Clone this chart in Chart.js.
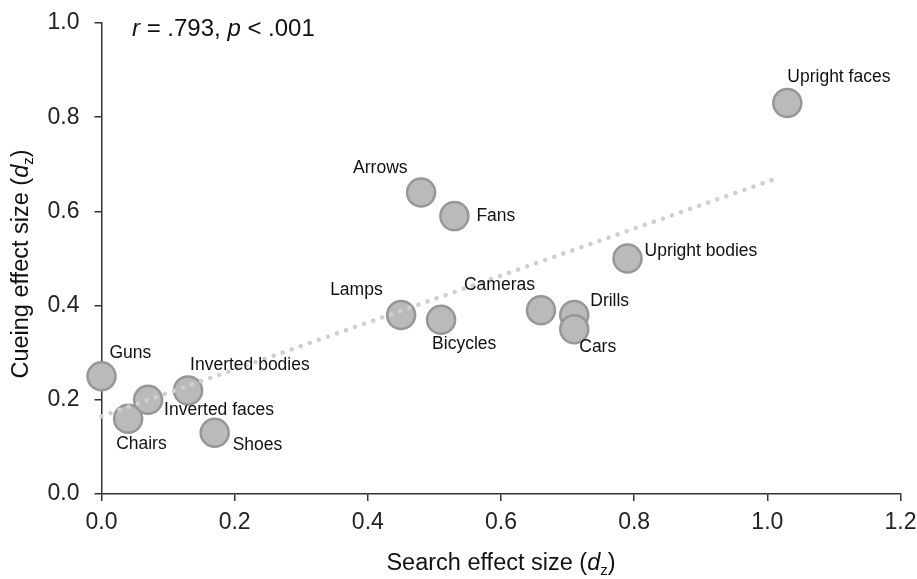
<!DOCTYPE html>
<html lang="en">
<head>
    <meta charset="UTF-8">
    <title>Cueing vs search effect size</title>
    <script src="https://cdn.jsdelivr.net/npm/chart.js"></script>
    <style>
        body { margin: 0; background: #fff; }
        #wrap { width: 917px; height: 579px; position: relative; }
    </style>
</head>
<body>
    <div id="wrap"><canvas id="myChart"></canvas></div>
    <script>
        // data
        const categories = ['Guns', 'Chairs', 'Inverted faces', 'Inverted bodies', 'Shoes', 'Lamps', 'Arrows',
            'Bicycles', 'Fans', 'Cameras', 'Drills', 'Cars', 'Upright bodies', 'Upright faces'];
        const searchEffect = [0.00, 0.04, 0.07, 0.13, 0.17, 0.45, 0.48, 0.51, 0.53, 0.66, 0.71, 0.71, 0.79, 1.03];
        const cueingEffect = [0.25, 0.16, 0.20, 0.22, 0.13, 0.38, 0.64, 0.37, 0.59, 0.39, 0.38, 0.35, 0.50, 0.83];
        const trendX = [0.00, 1.01];
        const trendY = [0.165, 0.668];
        const xTicks = [0, 0.2, 0.4, 0.6, 0.8, 1.0, 1.2];
        const yTicks = [0, 0.2, 0.4, 0.6, 0.8, 1.0];

        // label placement relative to each point (px)
        const labelOffsets = [[8, -23], [-12, 26], [16, 10], [2, -25], [18, 12], [-71, -25], [-68, -24],
            [-9, 24], [22, 0], [-77, -25], [16, -14], [5, 18], [17, -7], [0, -26]];

        const FONT = 'Arial, "Liberation Sans", sans-serif';

        const pointLabels = {
            id: 'pointLabels',
            afterDatasetsDraw(chart) {
                const c = chart.ctx;
                const meta = chart.getDatasetMeta(1);
                c.save();
                c.font = '17.5px ' + FONT;
                c.fillStyle = '#111';
                c.textAlign = 'left';
                c.textBaseline = 'middle';
                meta.data.forEach((pt, i) => {
                    c.fillText(categories[i], pt.x + labelOffsets[i][0], pt.y + labelOffsets[i][1]);
                });
                c.restore();
            }
        };

        // draws a run of [text, font, dy] parts
        function drawParts(c, parts, centred) {
            let total = 0;
            parts.forEach(p => { c.font = p[1]; total += c.measureText(p[0]).width; });
            let x = centred ? -total / 2 : 0;
            parts.forEach(p => {
                c.font = p[1];
                c.fillText(p[0], x, p[2] || 0);
                x += c.measureText(p[0]).width;
            });
        }

        const axisText = {
            id: 'axisText',
            afterDraw(chart) {
                const c = chart.ctx;
                const a = chart.chartArea;
                const big = '23.5px ' + FONT, ital = 'italic 23.5px ' + FONT, sub = '15px ' + FONT;
                const title = name => [[name + ' (', big], ['d', ital], ['z', sub, 5], [')', big]];
                c.save();
                c.fillStyle = '#111';
                c.textBaseline = 'alphabetic';
                c.textAlign = 'left';
                // x title
                c.save();
                c.translate((a.left + a.right) / 2, 570);
                drawParts(c, title('Search effect size'), true);
                c.restore();
                // y title
                c.save();
                c.translate(28, 264);
                c.rotate(-Math.PI / 2);
                drawParts(c, title('Cueing effect size'), true);
                c.restore();
                // correlation note
                c.save();
                c.translate(132, 36);
                const f = '24px ' + FONT, fi = 'italic 24px ' + FONT;
                drawParts(c, [['r', fi], [' = .793, ', f], ['p', fi], [' < .001', f]], false);
                c.restore();
                c.restore();
            }
        };

        const ctx = document.getElementById('myChart').getContext('2d');
        new Chart(ctx, {
            data: {
                datasets: [{
                    type: 'line',
                    data: trendX.map((x, i) => ({ x: x, y: trendY[i] })),
                    borderColor: '#cfcfcf',
                    borderWidth: 4.5,
                    borderDash: [0.1, 9.5],
                    borderCapStyle: 'round',
                    pointRadius: 0,
                    fill: false,
                    clip: false,
                    order: 0
                }, {
                    type: 'scatter',
                    data: searchEffect.map((x, i) => ({ x: x, y: cueingEffect[i] })),
                    backgroundColor: '#bababa',
                    borderColor: '#979797',
                    borderWidth: 2.5,
                    pointRadius: 14,
                    pointHoverRadius: 14,
                    clip: false,
                    order: 1
                }]
            },
            options: {
                responsive: true,
                maintainAspectRatio: false,
                animation: false,
                layout: { padding: { left: 0, right: 11, top: 23, bottom: 0 } },
                plugins: { legend: { display: false }, tooltip: { enabled: false } },
                scales: {
                    x: {
                        type: 'linear',
                        min: 0, max: 1.2,
                        afterBuildTicks: s => { s.ticks = xTicks.map(v => ({ value: v })); },
                        afterFit: s => { s.height = 85; s.paddingLeft = 0; s.paddingRight = 0; },
                        border: { color: '#333', width: 1.5 },
                        grid: { drawOnChartArea: false, drawTicks: true, tickLength: 7, color: '#333', lineWidth: 1.5 },
                        ticks: { color: '#222', font: { size: 23, family: FONT }, padding: 8,
                            callback: v => v.toFixed(1) }
                    },
                    y: {
                        type: 'linear',
                        min: 0, max: 1.0,
                        afterBuildTicks: s => { s.ticks = yTicks.map(v => ({ value: v })); },
                        afterFit: s => { s.width = 101.5; s.paddingTop = 0; s.paddingBottom = 0; },
                        border: { color: '#333', width: 1.5 },
                        grid: { drawOnChartArea: false, drawTicks: true, tickLength: 7, color: '#333', lineWidth: 1.5 },
                        ticks: { color: '#222', font: { size: 23, family: FONT }, padding: 15,
                            callback: v => v.toFixed(1) }
                    }
                }
            },
            plugins: [pointLabels, axisText]
        });
    </script>
</body>
</html>
